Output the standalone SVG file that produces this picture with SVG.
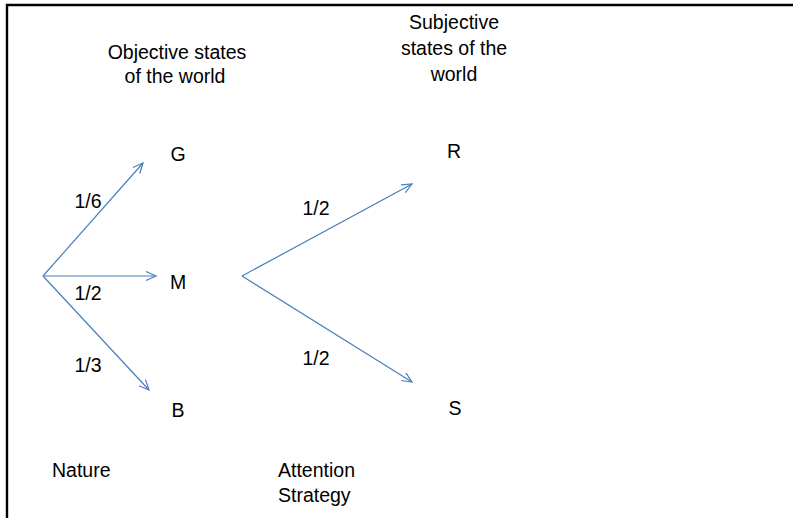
<svg xmlns="http://www.w3.org/2000/svg" width="793" height="518" viewBox="0 0 793 518">
<defs>
<marker id="ah" markerUnits="userSpaceOnUse" markerWidth="14" markerHeight="12" refX="11" refY="5" orient="auto" viewBox="0 0 14 12">
<path d="M1,0.5 L11,5 L1,9.5" fill="none" stroke="#4a7ebb" stroke-width="1.2"/>
</marker>
<style>
text{font-family:"Liberation Sans",Arial,sans-serif;font-size:19.5px;fill:#000}
.c{text-anchor:middle}
.e{fill:none;stroke:#4a7ebb;stroke-width:1.2;marker-end:url(#ah)}
</style>
</defs>
<rect width="793" height="518" fill="#fff"/>
<path d="M7,518 V5 H793" fill="none" stroke="#000" stroke-width="2.4"/>
<g id="title-objective">
<text class="c" x="177" y="59">Objective states</text>
<text class="c" x="175" y="83">of the world</text>
</g>
<g id="title-subjective">
<text class="c" x="454" y="29">Subjective</text>
<text class="c" x="454" y="55">states of the</text>
<text class="c" x="454" y="81">world</text>
</g>
<g id="node-G"><text class="c" x="178" y="161">G</text></g>
<g id="node-M"><text class="c" x="178" y="289">M</text></g>
<g id="node-B"><text class="c" x="178" y="417">B</text></g>
<g id="node-R"><text class="c" x="454" y="158">R</text></g>
<g id="node-S"><text class="c" x="455" y="415">S</text></g>
<g id="node-nature"><text x="52" y="477">Nature</text></g>
<g id="node-attention"><text x="278" y="477">Attention</text><text x="278" y="502">Strategy</text></g>
<g id="connectors">
<line class="e" x1="43" y1="276" x2="143" y2="163"/>
<line class="e" x1="43" y1="276" x2="156" y2="276"/>
<line class="e" x1="43" y1="276" x2="149" y2="390"/>
<line class="e" x1="242" y1="276" x2="412" y2="184"/>
<line class="e" x1="242" y1="276" x2="412" y2="382"/>
<text class="c" x="88" y="208">1/6</text>
<text class="c" x="88" y="300">1/2</text>
<text class="c" x="88" y="372">1/3</text>
<text class="c" x="316" y="215">1/2</text>
<text class="c" x="316" y="365">1/2</text>
</g>
</svg>
